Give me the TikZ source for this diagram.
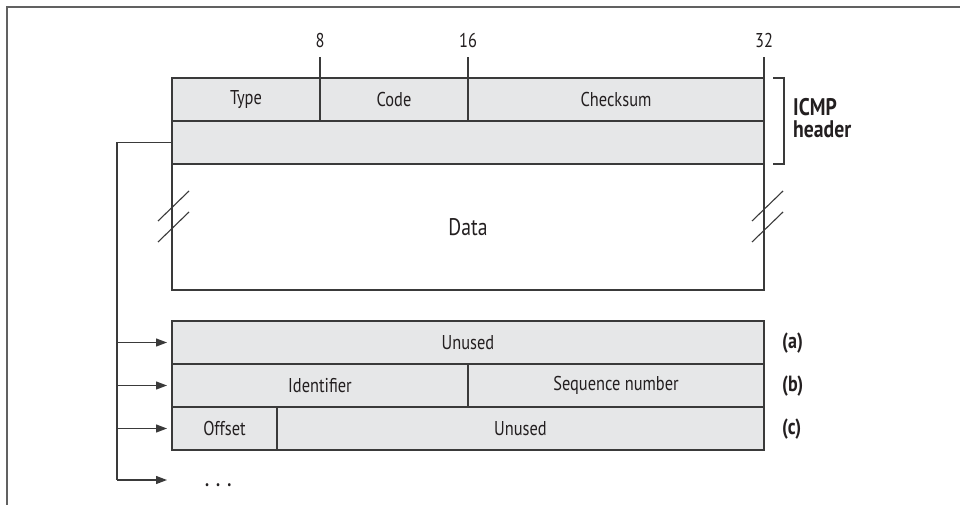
\documentclass[tikz,border=0pt]{standalone}
\usepackage{fontspec}
\setmainfont{PT Sans}[FakeStretch=0.82]
\usetikzlibrary{arrows.meta}
\definecolor{ln}{HTML}{3A3A3A}
\definecolor{fl}{HTML}{E6E7E8}
\definecolor{tx}{HTML}{231F20}
\begin{document}
\begin{tikzpicture}[x=1pt,y=-1pt,
  field/.style={draw=ln, fill=fl, line width=1.3pt, anchor=north west,
    inner sep=0pt, outer sep=0pt, text=tx, font=\fontsize{20}{22}\selectfont},
  num/.style={anchor=south, inner sep=0pt, yshift=9pt, text=tx, font=\fontsize{20}{22}\selectfont},
  lbl/.style={anchor=west, inner sep=0pt, text=tx, font=\bfseries\fontsize{22}{24}\selectfont},
  tickline/.style={draw=ln, line width=1.3pt},
  conn/.style={draw=ln, line width=1.3pt},
  arr/.style={draw=ln, line width=1.3pt, -{Triangle[length=11pt,width=8pt]}, shorten >=5pt},
  brk/.style={draw=ln, line width=1.1pt}
]
\useasboundingbox (0,0) rectangle (960,505);
% frame
\draw[draw=ln!80, line width=1.4pt] (7,505) -- (7,7) -- (960,7);

% header
\node[field, minimum width=148pt, minimum height=43pt] (type) at (172,78) {Type};
\node[field, minimum width=148pt, minimum height=43pt] (code) at (320,78) {Code};
\node[field, minimum width=296pt, minimum height=43pt] (csum) at (468,78) {Checksum};
\node[field, minimum width=592pt, minimum height=43pt] (hdr) at (172,121) {};
\node[field, fill=white, minimum width=592pt, minimum height=126pt,
  font=\fontsize{24}{26}\selectfont] (data) at (172,164) {Data};

% bit ticks
\draw[tickline] (type.north east) -- ++(0,-21) node[num] (n8) {8};
\draw[tickline] (code.north east) -- ++(0,-21) node[num] (n16) {16};
\draw[tickline] (csum.north east) -- ++(0,-21) node[num] (n32) {32};

% bracket
\draw[conn, line width=1.2pt] ([xshift=9pt]csum.north east) -- ++(11,0) |- ([xshift=9pt]hdr.south east);
\node[anchor=west, align=left, inner sep=0pt, text=tx,
  font=\bfseries\fontsize{24}{22}\selectfont] (icmp) at (793,118) {ICMP\\header};

% break marks
\draw[brk] ([shift={(-14,-6)}]data.west) -- ([shift={(17,-36)}]data.west);
\draw[brk] ([shift={(-14,15)}]data.west) -- ([shift={(17,-15)}]data.west);
\draw[brk] ([shift={(-12,-6)}]data.east) -- ([shift={(19,-36)}]data.east);
\draw[brk] ([shift={(-12,15)}]data.east) -- ([shift={(19,-15)}]data.east);

% variants
\node[field, minimum width=592pt, minimum height=43pt] (ua) at (172,321) {Unused};
\node[field, minimum width=296pt, minimum height=43pt] (id) at (172,364) {Identifier};
\node[field, minimum width=296pt, minimum height=43pt] (seq) at (468,364) {Sequence number};
\node[field, minimum width=105pt, minimum height=43pt] (off) at (172,407) {Offset};
\node[field, minimum width=487pt, minimum height=43pt] (uc) at (277,407) {Unused};

\node[lbl] (la) at (782,343) {(a)};
\node[lbl] (lb) at (782,386) {(b)};
\node[lbl] (lc) at (782,429) {(c)};

% connectors
\coordinate (bus) at (117,480);
\coordinate (more) at (172,480);
\draw[conn] (hdr.west) -| (bus);
\draw[arr] (bus |- ua.west) -- (ua.west);
\draw[arr] (bus |- id.west) -- (id.west);
\draw[arr] (bus |- off.west) -- (off.west);
\draw[arr] (bus) -- (more);
\node[anchor=base west, inner sep=0pt, text=tx, font=\bfseries\fontsize{20}{22}\selectfont] (dots) at (205,486) {.\hspace{7pt}.\hspace{7pt}.};
\end{tikzpicture}
\end{document}
